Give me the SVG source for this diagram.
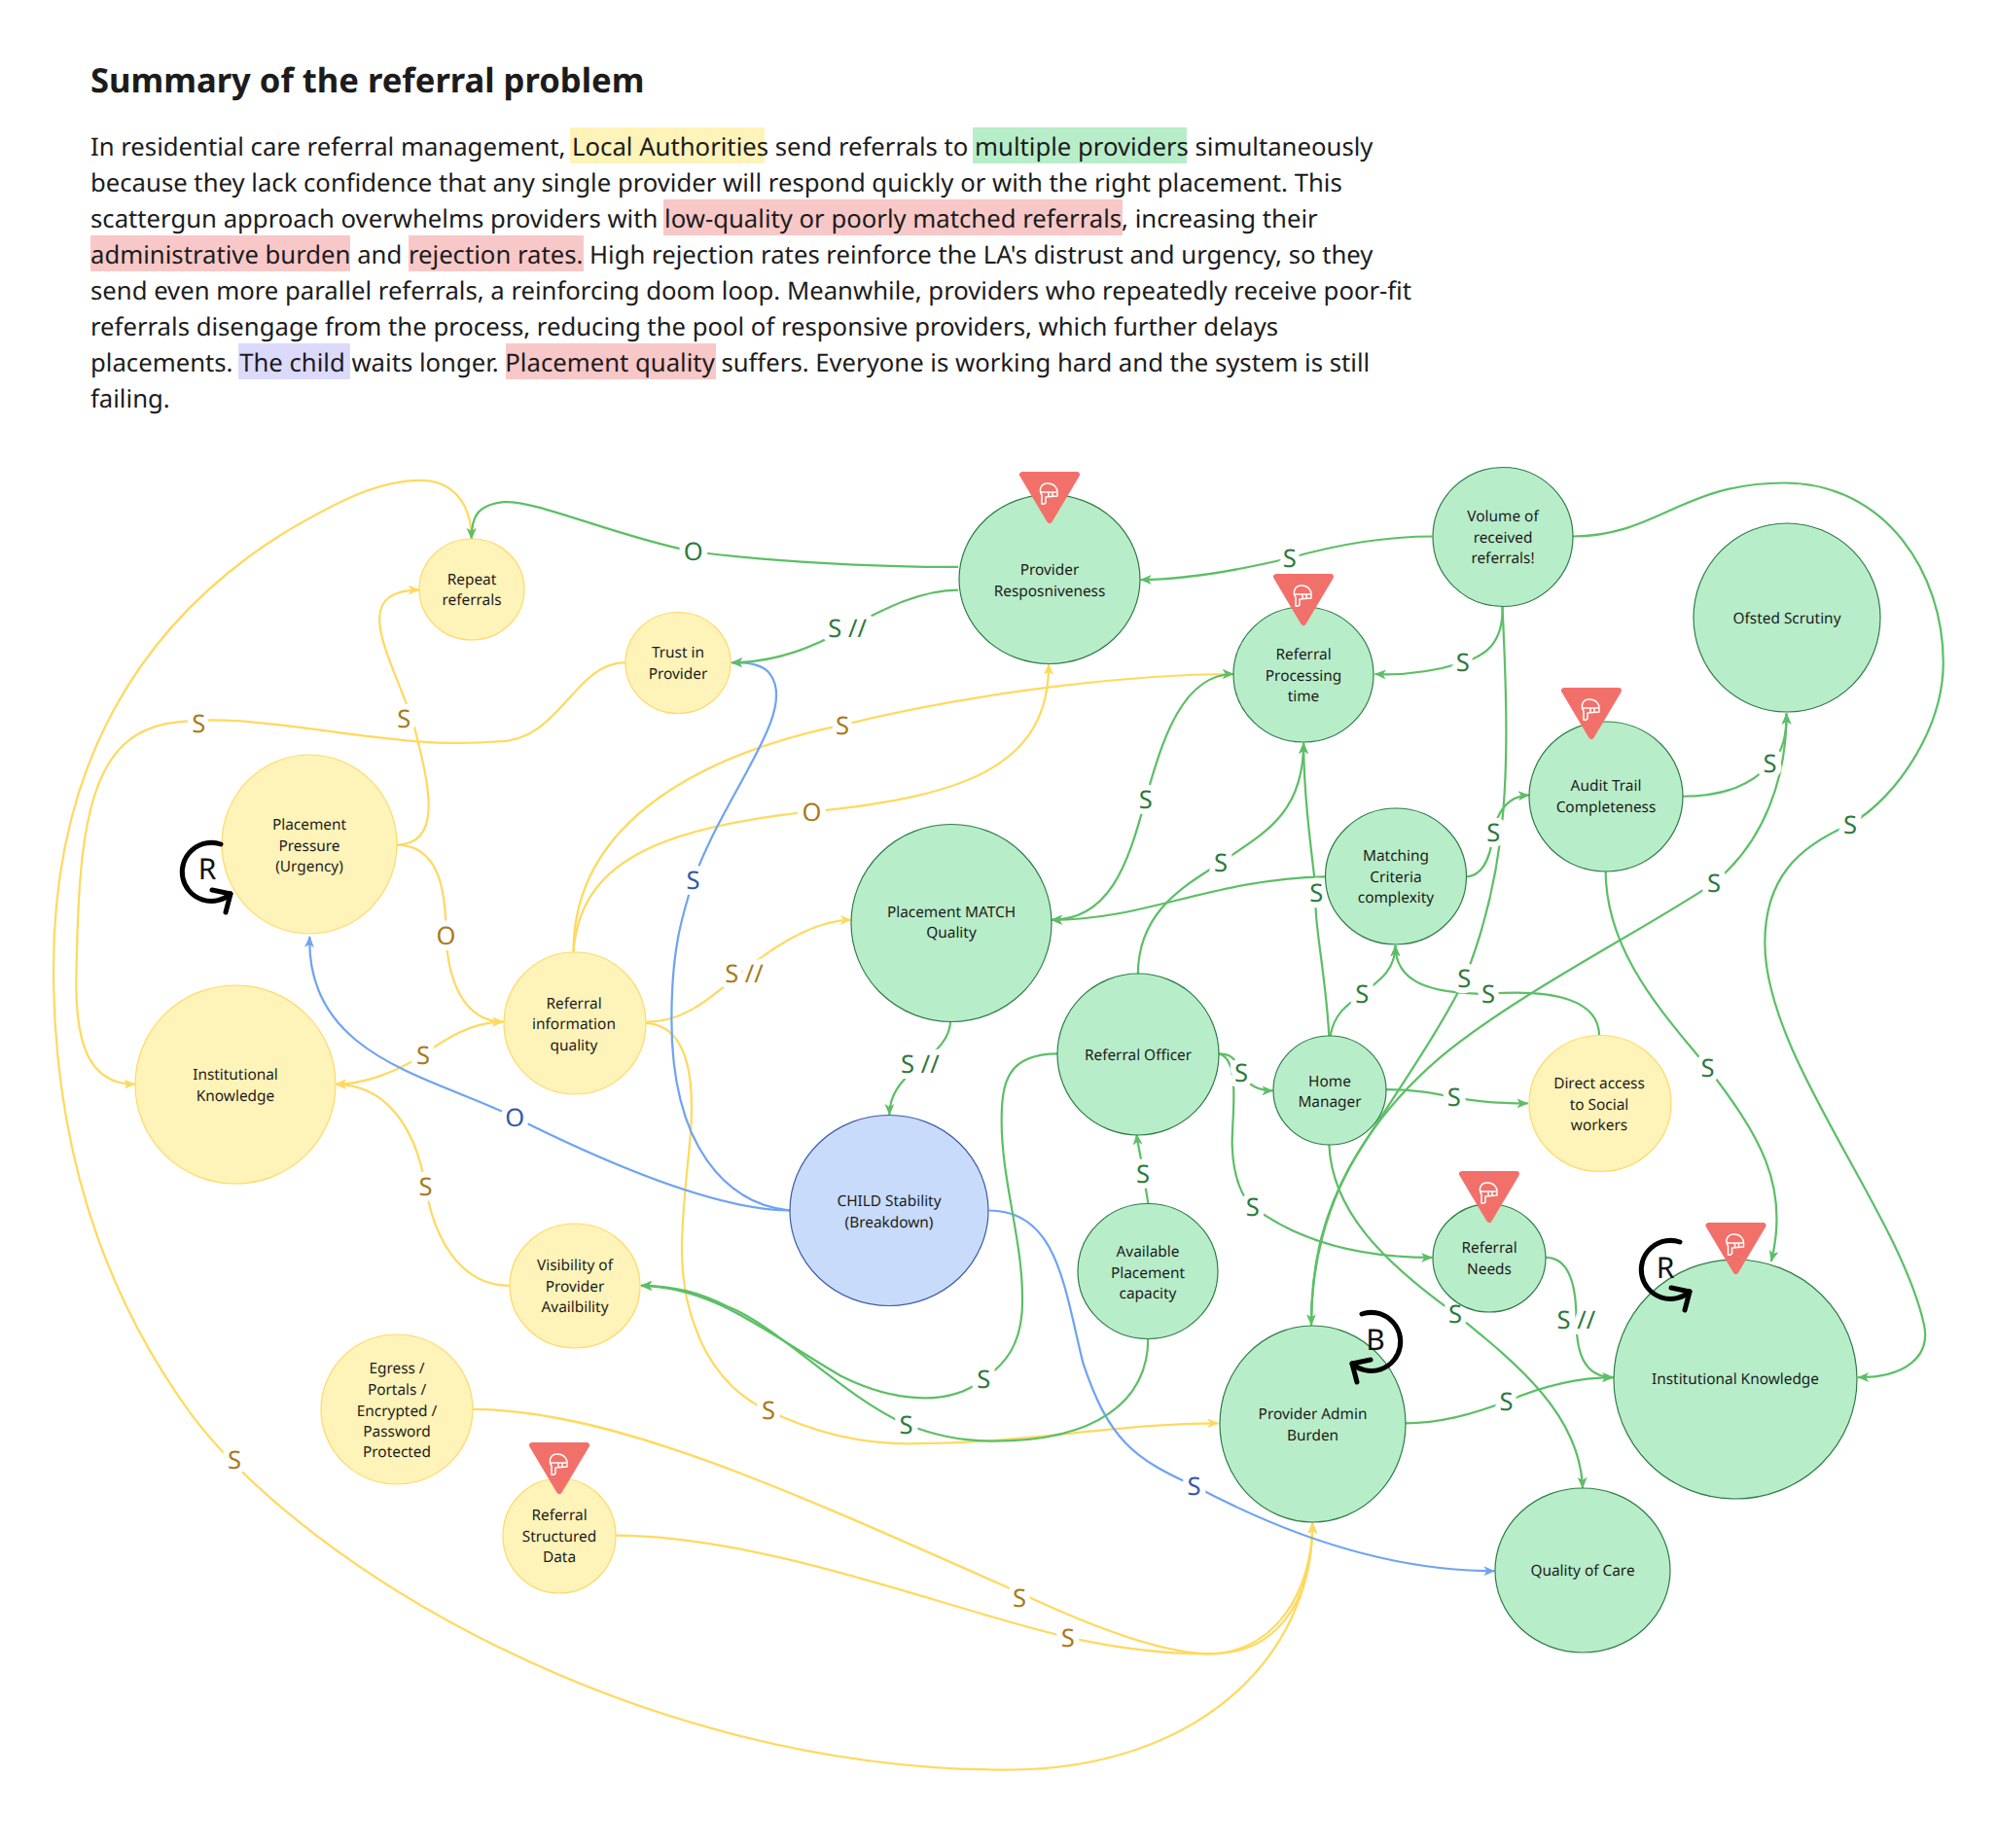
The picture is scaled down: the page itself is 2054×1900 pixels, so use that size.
<svg xmlns="http://www.w3.org/2000/svg" xmlns:xlink="http://www.w3.org/1999/xlink" width="2054" height="1900" viewBox="0 0 2054 1900">
<style>
text{font-family:"Noto Sans","Open Sans","Liberation Sans",sans-serif;fill:#1c1c1c;text-rendering:geometricPrecision}
.title{font-size:34.6px;font-weight:700}
.body{font-size:25.7px}
.t{font-size:15.4px;text-anchor:middle}
.y{fill:#FEF3B8;stroke:#FFD966;stroke-width:1.2}
.g{fill:#B8EDC9;stroke:#2F7D46;stroke-width:1.2}
.b{fill:#C8DBFB;stroke:#3A5BA8;stroke-width:1.2}
.c{fill:none;stroke-width:1.7}
.cy{stroke:#FFD95E}.cg{stroke:#5CBF66}.cb{stroke:#6FA3F3}
.l{font-size:19.5px;text-anchor:middle;paint-order:stroke;stroke:#fff;stroke-width:9px;stroke-linejoin:round}
.ly{fill:#A87A1C}.lg{fill:#2E7A3C}.lb{fill:#3358A8}
.loop{fill:none;stroke:#000;stroke-width:5;stroke-linecap:round;stroke-linejoin:round}
.ll{font-size:30px;text-anchor:middle;fill:#111}
.hy{fill:#FEF3B8}.hg{fill:#B8EDC9}.hr{fill:#F8C8C8}.hv{fill:#DCDAFB}
</style>
<defs>
<marker id="ay" markerUnits="userSpaceOnUse" viewBox="0 0 10 10" refX="9.5" refY="5" markerWidth="9" markerHeight="9" orient="auto-start-reverse"><path d="M0,0.8 L10,5 L0,9.2 L2.5,5 Z" fill="#FFD95E"/></marker>
<marker id="ag" markerUnits="userSpaceOnUse" viewBox="0 0 10 10" refX="9.5" refY="5" markerWidth="9" markerHeight="9" orient="auto-start-reverse"><path d="M0,0.8 L10,5 L0,9.2 L2.5,5 Z" fill="#5CBF66"/></marker>
<marker id="ab" markerUnits="userSpaceOnUse" viewBox="0 0 10 10" refX="9.5" refY="5" markerWidth="9" markerHeight="9" orient="auto-start-reverse"><path d="M0,0.8 L10,5 L0,9.2 L2.5,5 Z" fill="#6FA3F3"/></marker>
<g id="flag">
<path d="M-28,3 L28,3 L0,50 Z" fill="#F2706A" stroke="#F2706A" stroke-width="6" stroke-linejoin="round"/>
<path d="M-8,33 L-8,24 C-11,20 -10,12 -2,12 C5,12 8,17 8,21 L8,25 L-4,26 L-4,32 Q-6,34 -8,33 Z M-9,21 L7,21 M-1,21 L-1,26 M3,21 L3,25" fill="none" stroke="#fff" stroke-width="1.5" stroke-linejoin="round"/>
</g>
<g id="loopR"><path class="loop" d="M14,-29 A30,30 0 1 0 24,22"/><path class="loop" d="M5,18 L24,22 L19,41"/></g>
</defs>
<rect width="2054" height="1900" fill="#fff"/>
<g id="summary">
<text class="title" x="93" y="95">Summary of the referral problem</text>
<rect class="hy" x="586" y="131" width="200" height="37"/>
<rect class="hg" x="1000" y="131" width="220" height="37"/>
<rect class="hr" x="682" y="205" width="472" height="37"/>
<rect class="hr" x="93" y="242" width="267" height="37"/>
<rect class="hr" x="420" y="242" width="180" height="37"/>
<rect class="hv" x="245" y="353" width="115" height="37"/>
<rect class="hr" x="520" y="353" width="216" height="37"/>
<text class="body" x="93" y="160">In residential care referral management, Local Authorities send referrals to multiple providers simultaneously</text>
<text class="body" x="93" y="197">because they lack confidence that any single provider will respond quickly or with the right placement. This</text>
<text class="body" x="93" y="234">scattergun approach overwhelms providers with low-quality or poorly matched referrals, increasing their</text>
<text class="body" x="93" y="271">administrative burden and rejection rates. High rejection rates reinforce the LA's distrust and urgency, so they</text>
<text class="body" x="93" y="308">send even more parallel referrals, a reinforcing doom loop. Meanwhile, providers who repeatedly receive poor-fit</text>
<text class="body" x="93" y="345">referrals disengage from the process, reducing the pool of responsive providers, which further delays</text>
<text class="body" x="93" y="382">placements. The child waits longer. Placement quality suffers. Everyone is working hard and the system is still</text>
<text class="body" x="93" y="419">failing.</text>
</g>
<g id="connectors" transform="scale(1.31)">
<g class="c cy">
<path marker-end="url(#ay)" marker-start="url(#ay)" d="M1030,1195 C1030,1300 940,1389 790,1389 C500,1389 240,1230 150,1110 C70,1000 42,880 42,760 C42,600 110,490 220,420 C270,390 300,377 330,377 C355,377 370,395 370,423"/>
<path marker-end="url(#ay)" d="M371,1106 C480,1106 620,1170 800,1250 C870,1283 920,1298 950,1298 C1000,1298 1030,1260 1030,1195"/>
<path marker-end="url(#ay)" d="M483,1205 C600,1205 750,1265 838,1285 C870,1292 910,1298 947,1298 C1000,1298 1030,1250 1030,1195"/>
<path marker-end="url(#ay)" d="M491,520 C450,520 440,582 390,582 C300,590 200,555 130,568 C70,580 62,650 60,760 C58,820 70,851 106,851"/>
<path marker-end="url(#ay)" d="M311,663 C350,663 335,610 325,570 C310,520 270,463 329,463"/>
<path marker-end="url(#ay)" d="M311,663 C345,663 350,700 350,734 C352,780 370,802 395,802"/>
<path marker-end="url(#ay)" d="M450,747 C450,640 560,590 661,569 C780,540 900,529 968,529"/>
<path marker-end="url(#ay)" d="M450,747 C455,680 510,650 637,637 C760,625 823,600 823,521"/>
<path marker-end="url(#ay)" d="M507,802 C540,802 560,780 580,765 C610,740 640,722 668,722"/>
<path marker-end="url(#ay)" d="M507,803 C545,805 545,860 541,900 C535,960 530,1000 545,1040 C555,1070 575,1095 603,1107 C640,1125 680,1134 720,1133 C800,1133 880,1117 956,1117"/>
<path marker-end="url(#ay)" marker-start="url(#ay)" d="M395,802 C370,802 350,815 332,828 C310,842 285,851 263,851"/>
<path marker-end="url(#ay)" d="M400,1009 C360,1009 340,970 334,931 C325,880 300,851 263,851"/>
</g>
<g class="c cb">
<path marker-end="url(#ab)" d="M620,950 C560,950 470,910 404,877 C340,845 240,830 243,735"/>
<path marker-end="url(#ab)" d="M620,950 C570,945 527,900 527,800 C527,745 535,720 544,691 C570,620 625,560 605,530 C600,522 590,520 574,520"/>
<path marker-end="url(#ab)" d="M776,950 C830,950 835,1010 850,1070 C870,1130 890,1145 937,1166 C1010,1205 1090,1233 1173,1233"/>
</g>
<g class="c cg">
<path marker-end="url(#ag)" d="M752,445 C680,445 600,440 544,433 C480,420 420,392 395,394 C375,396 370,405 370,423"/>
<path marker-end="url(#ag)" d="M1124,421 C1080,421 1040,430 1012,438 C970,448 930,455 895,455"/>
<path marker-end="url(#ag)" d="M752,463 C720,463 690,480 665,493 C640,507 610,520 574,520"/>
<path marker-end="url(#ag)" d="M1179,476 C1180,505 1165,515 1148,520 C1125,527 1100,530 1079,529"/>
<path marker-end="url(#ag)" d="M1179,476 C1185,600 1185,680 1149,769 C1130,810 1080,880 1059,916 C1035,960 1029,1000 1029,1040"/>
<path marker-end="url(#ag)" d="M1029,1040 C1029,960 1060,890 1130,830 C1190,780 1290,730 1345,693 C1385,660 1402,610 1402,560"/>
<path marker-end="url(#ag)" d="M1320,625 C1355,625 1375,615 1389,600 C1400,590 1402,575 1402,560"/>
<path marker-end="url(#ag)" d="M1260,683 C1260,750 1310,800 1340,838 C1380,890 1405,930 1390,990"/>
<path marker-end="url(#ag)" d="M1234,421 C1300,421 1320,379 1400,379 C1480,379 1525,450 1525,520 C1525,570 1490,625 1452,647 C1410,665 1385,690 1385,740 C1385,830 1490,950 1510,1040 C1515,1065 1495,1081 1458,1081"/>
<path marker-end="url(#ag)" d="M1150,688 C1165,688 1170,670 1172,654 C1175,635 1185,625 1200,624"/>
<path marker-end="url(#ag)" d="M1040,688 C950,690 900,722 825,722"/>
<path marker-end="url(#ag)" marker-start="url(#ag)" d="M968,529 C925,529 910,590 899,627 C885,680 870,722 825,722"/>
<path marker-end="url(#ag)" d="M893,765 C893,715 930,695 958,677 C990,655 1023,640 1023,583"/>
<path marker-end="url(#ag)" d="M1043,813 C1040,760 1030,720 1033,701 C1028,660 1023,620 1023,583"/>
<path marker-end="url(#ag)" d="M1044,813 C1047,795 1058,788 1069,780 C1085,768 1095,760 1095,742"/>
<path marker-end="url(#ag)" d="M1255,813 C1255,785 1220,776 1168,780 C1120,780 1095,770 1095,742"/>
<path marker-end="url(#ag)" d="M1087,855 C1110,855 1125,858 1141,861 C1155,864 1175,866 1199,866"/>
<path marker-end="url(#ag)" d="M956,827 C965,827 970,830 974,842 C978,850 985,856 999,856"/>
<path marker-end="url(#ag)" d="M956,827 C975,830 966,880 967,900 C968,925 975,940 983,947 C1020,975 1070,987 1124,987"/>
<path marker-end="url(#ag)" d="M830,827 C790,827 786,850 786,880 C786,930 805,980 802,1030 C800,1055 790,1070 772,1082 C745,1105 700,1100 660,1080 C600,1045 560,1010 503,1009"/>
<path marker-end="url(#ag)" d="M901,1050 C901,1100 860,1131 780,1131 C750,1131 730,1125 711,1118 C660,1095 610,1040 570,1025 C550,1015 530,1009 503,1009"/>
<path marker-end="url(#ag)" d="M901,945 C900,935 898,930 897,921 C896,910 893,900 892,890"/>
<path marker-end="url(#ag)" d="M746,800 C746,815 735,825 722,835 C705,850 698,860 698,875"/>
<path marker-end="url(#ag)" d="M1213,987 C1230,987 1237,1005 1237,1036 C1237,1065 1245,1081 1266,1081"/>
<path marker-end="url(#ag)" d="M1102,1117 C1130,1117 1155,1110 1182,1100 C1210,1088 1240,1081 1266,1081"/>
<path marker-end="url(#ag)" d="M1043,898 C1045,950 1085,990 1142,1031 C1190,1070 1240,1110 1242,1168"/>
</g>
<g id="edge-labels">
<text class="l ly" x="184" y="1153">S</text><text class="l ly" x="800" y="1261">S</text><text class="l ly" x="838" y="1292">S</text>
<text class="l ly" x="156" y="575">S</text><text class="l ly" x="317" y="571">S</text><text class="l ly" x="350" y="741">O</text>
<text class="l ly" x="661" y="576">S</text><text class="l ly" x="637" y="644">O</text><text class="l ly" x="584" y="771">S //</text>
<text class="l ly" x="603" y="1114">S</text><text class="l ly" x="332" y="835">S</text><text class="l ly" x="334" y="938">S</text>
<text class="l lb" x="404" y="884">O</text><text class="l lb" x="544" y="698">S</text><text class="l lb" x="937" y="1173">S</text>
<text class="l lg" x="544" y="440">O</text><text class="l lg" x="1012" y="445">S</text><text class="l lg" x="665" y="500">S //</text>
<text class="l lg" x="1148" y="527">S</text><text class="l lg" x="1149" y="775">S</text><text class="l lg" x="1345" y="700">S</text>
<text class="l lg" x="1389" y="606">S</text><text class="l lg" x="1340" y="845">S</text><text class="l lg" x="1452" y="654">S</text>
<text class="l lg" x="1172" y="660">S</text><text class="l lg" x="899" y="634">S</text><text class="l lg" x="958" y="684">S</text>
<text class="l lg" x="1033" y="708">S</text><text class="l lg" x="1069" y="787">S</text><text class="l lg" x="1168" y="787">S</text>
<text class="l lg" x="1141" y="868">S</text><text class="l lg" x="974" y="849">S</text><text class="l lg" x="983" y="954">S</text>
<text class="l lg" x="772" y="1089">S</text><text class="l lg" x="711" y="1125">S</text><text class="l lg" x="897" y="928">S</text>
<text class="l lg" x="722" y="842">S //</text><text class="l lg" x="1237" y="1043">S //</text><text class="l lg" x="1182" y="1107">S</text>
<text class="l lg" x="1142" y="1038">S</text>
</g>
</g>
<g id="n-repeat"><ellipse class="y" cx="485" cy="606" rx="54" ry="52"/><text class="t" x="485" y="601">Repeat</text><text class="t" x="485" y="622">referrals</text></g>
<g id="n-trust"><ellipse class="y" cx="697" cy="681.5" rx="54" ry="52"/><text class="t" x="697" y="676">Trust in</text><text class="t" x="697" y="698">Provider</text></g>
<g id="n-responsiveness"><ellipse class="g" cx="1079" cy="595.5" rx="93" ry="87"/><text class="t" x="1079" y="591">Provider</text><text class="t" x="1079" y="613">Resposniveness</text></g>
<g id="n-processing"><ellipse class="g" cx="1340" cy="693.5" rx="72" ry="69.5"/><text class="t" x="1340" y="678">Referral</text><text class="t" x="1340" y="700">Processing</text><text class="t" x="1340" y="721">time</text></g>
<g id="n-volume"><ellipse class="g" cx="1545" cy="552" rx="72" ry="71.5"/><text class="t" x="1545" y="536">Volume of</text><text class="t" x="1545" y="558">received</text><text class="t" x="1545" y="579">referrals!</text></g>
<g id="n-ofsted"><ellipse class="g" cx="1837" cy="635" rx="96" ry="97"/><text class="t" x="1837" y="641">Ofsted Scrutiny</text></g>
<g id="n-audit"><ellipse class="g" cx="1651" cy="819" rx="79" ry="77"/><text class="t" x="1651" y="813">Audit Trail</text><text class="t" x="1651" y="835">Completeness</text></g>
<g id="n-matching"><ellipse class="g" cx="1435" cy="901" rx="72.5" ry="70"/><text class="t" x="1435" y="885">Matching</text><text class="t" x="1435" y="907">Criteria</text><text class="t" x="1435" y="928">complexity</text></g>
<g id="n-match"><ellipse class="g" cx="978" cy="949" rx="103" ry="101.5"/><text class="t" x="978" y="943">Placement MATCH</text><text class="t" x="978" y="964">Quality</text></g>
<g id="n-pressure"><ellipse class="y" cx="318" cy="868" rx="90" ry="92"/><text class="t" x="318" y="853">Placement</text><text class="t" x="318" y="875">Pressure</text><text class="t" x="318" y="896">(Urgency)</text></g>
<g id="n-info"><ellipse class="y" cx="591" cy="1052" rx="73" ry="73"/><text class="t" x="590" y="1037">Referral</text><text class="t" x="590" y="1058">information</text><text class="t" x="590" y="1080">quality</text></g>
<g id="n-inst-left"><ellipse class="y" cx="242" cy="1115" rx="103" ry="102"/><text class="t" x="242" y="1110">Institutional</text><text class="t" x="242" y="1132">Knowledge</text></g>
<g id="n-child"><ellipse class="b" cx="914" cy="1244.5" rx="102" ry="98"/><text class="t" x="914" y="1240">CHILD Stability</text><text class="t" x="914" y="1262">(Breakdown)</text></g>
<g id="n-officer"><ellipse class="g" cx="1170" cy="1084" rx="83" ry="83"/><text class="t" x="1170" y="1090">Referral Officer</text></g>
<g id="n-home"><ellipse class="g" cx="1367" cy="1121" rx="58" ry="56"/><text class="t" x="1367" y="1117">Home</text><text class="t" x="1367" y="1138">Manager</text></g>
<g id="n-direct"><ellipse class="y" cx="1645" cy="1134.5" rx="73" ry="70"/><text class="t" x="1644" y="1119">Direct access</text><text class="t" x="1644" y="1141">to Social</text><text class="t" x="1644" y="1162">workers</text></g>
<g id="n-available"><ellipse class="g" cx="1180" cy="1307" rx="72" ry="69.5"/><text class="t" x="1180" y="1292">Available</text><text class="t" x="1180" y="1314">Placement</text><text class="t" x="1180" y="1335">capacity</text></g>
<g id="n-needs"><ellipse class="g" cx="1531" cy="1293.5" rx="58" ry="55.5"/><text class="t" x="1531" y="1288">Referral</text><text class="t" x="1531" y="1310">Needs</text></g>
<g id="n-inst-right"><ellipse class="g" cx="1784" cy="1418" rx="125" ry="123"/><text class="t" x="1784" y="1423">Institutional Knowledge</text></g>
<g id="n-visibility"><ellipse class="y" cx="591" cy="1322" rx="67" ry="64"/><text class="t" x="591" y="1306">Visibility of</text><text class="t" x="591" y="1328">Provider</text><text class="t" x="591" y="1349">Availbility</text></g>
<g id="n-egress"><ellipse class="y" cx="408" cy="1449" rx="78" ry="77"/><text class="t" x="408" y="1412">Egress /</text><text class="t" x="408" y="1434">Portals /</text><text class="t" x="408" y="1456">Encrypted /</text><text class="t" x="408" y="1477">Password</text><text class="t" x="408" y="1498">Protected</text></g>
<g id="n-structured"><ellipse class="y" cx="575" cy="1579" rx="58" ry="59"/><text class="t" x="575" y="1563">Referral</text><text class="t" x="575" y="1585">Structured</text><text class="t" x="575" y="1606">Data</text></g>
<g id="n-admin"><ellipse class="g" cx="1349.5" cy="1464" rx="95.5" ry="101"/><text class="t" x="1349.5" y="1459">Provider Admin</text><text class="t" x="1349.5" y="1481">Burden</text></g>
<g id="n-quality"><ellipse class="g" cx="1627" cy="1614.5" rx="90" ry="84.5"/><text class="t" x="1627" y="1620">Quality of Care</text></g>
<g id="flags">
<use href="#flag" x="1079" y="485"/><use href="#flag" x="1340" y="590"/><use href="#flag" x="1636" y="707"/>
<use href="#flag" x="1531" y="1204"/><use href="#flag" x="1784.5" y="1257"/><use href="#flag" x="575" y="1483"/>
</g>
<g id="loops">
<use href="#loopR" x="213" y="897"/><text class="ll" x="213" y="904">R</text>
<use href="#loopR" x="1713" y="1306"/><text class="ll" x="1712" y="1314">R</text>
<g transform="translate(1414,1380) scale(-1,1)"><use href="#loopR"/></g><text class="ll" x="1414" y="1388">B</text>
</g>
</svg>
